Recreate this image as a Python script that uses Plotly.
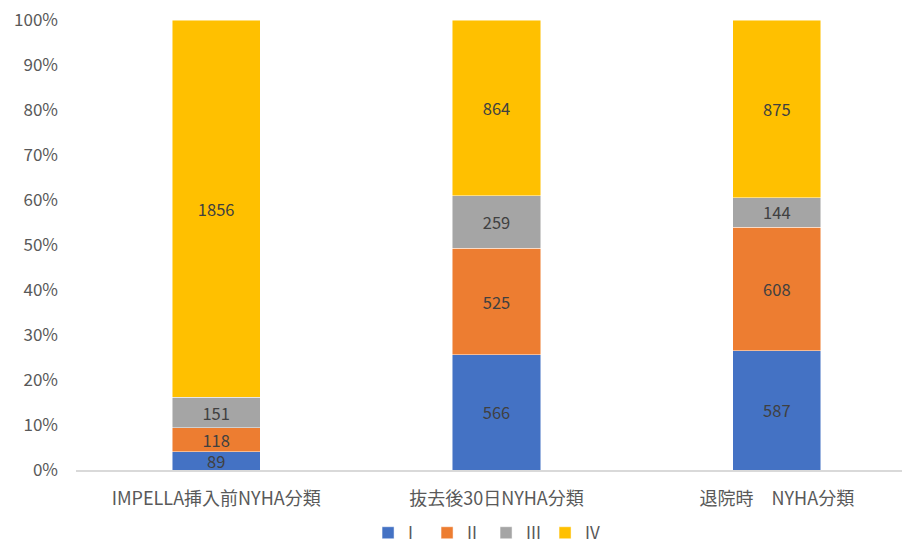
import plotly.graph_objects as go

categories = ["IMPELLA挿入前NYHA分類", "抜去後30日NYHA分類", "退院時　NYHA分類"]
series_names = ["I", "II", "III", "IV"]
vals_I = [89, 566, 587]
vals_II = [118, 525, 608]
vals_III = [151, 259, 144]
vals_IV = [1856, 864, 875]
colors = ["#4472C4", "#ED7D31", "#A5A5A5", "#FFC000"]
y_ticks = [0, 10, 20, 30, 40, 50, 60, 70, 80, 90, 100]

FONT = "Noto Sans CJK JP"
fig = go.Figure()
for name, vals, col in zip(series_names, [vals_I, vals_II, vals_III, vals_IV], colors):
    fig.add_trace(go.Bar(
        x=categories, y=vals, name=name,
        marker=dict(color=col, line=dict(color="rgba(255,255,255,0.6)", width=0.8)),
        text=[str(v) for v in vals], textposition="inside", insidetextanchor="middle",
        textangle=0, textfont=dict(color="#404040", size=16.5, family=FONT),
        hoverinfo="skip",
    ))

# the page body has an 8px margin, so the figure is 902x537 and starts at (8, 8)
fig.update_layout(
    barmode="stack", barnorm="percent", bargap=0.686,
    width=902, height=537,
    margin=dict(l=68, r=0, t=12, b=75, autoexpand=False),
    plot_bgcolor="white", paper_bgcolor="white",
    font=dict(family=FONT, color="#595959", size=16),
    uniformtext=dict(minsize=16, mode="show"),
    showlegend=True,
    legend=dict(orientation="h", x=0.53, xanchor="center", xref="container",
                y=0.022, yanchor="middle", yref="container",
                font=dict(size=17, color="#595959"), itemwidth=30,
                entrywidth=14, entrywidthmode="pixels", traceorder="normal"),
    xaxis=dict(showline=True, linecolor="#D9D9D9", linewidth=1.5, ticks="",
               range=[-0.5, 2.475],
               automargin=False, ticklabelstandoff=12,
               tickfont=dict(size=18, color="#595959")),
    yaxis=dict(range=[0, 100], tickvals=y_ticks, ticktext=[f"{t}%" for t in y_ticks],
               showgrid=False, zeroline=False, showline=False, ticks="",
               automargin=False, ticklabelstandoff=17, ticklabeloverflow="allow",
               tickfont=dict(size=17, color="#595959")),
)
fig.write_html("out.html")
